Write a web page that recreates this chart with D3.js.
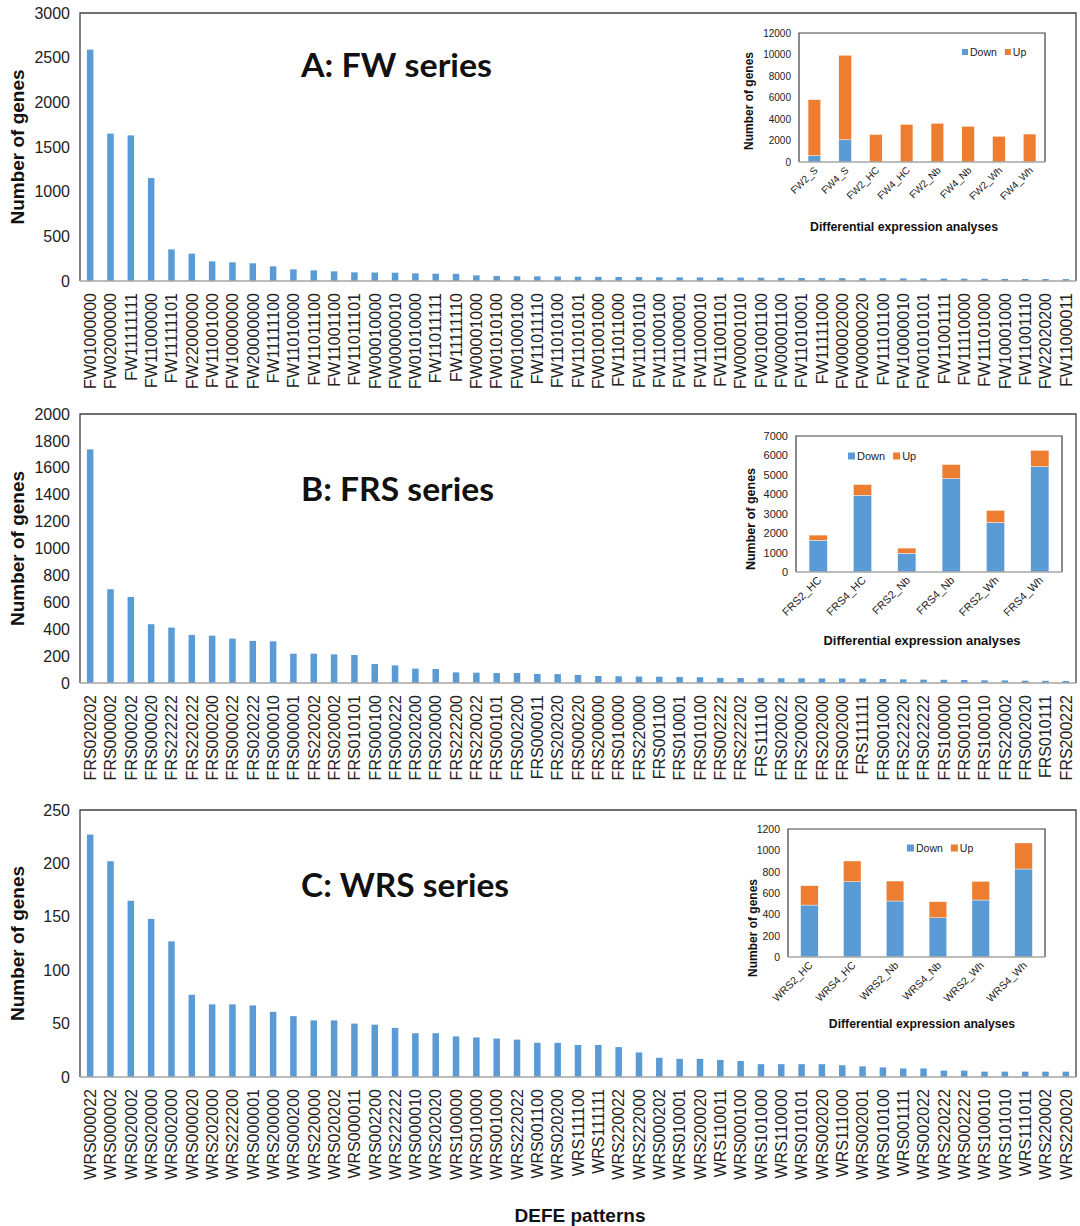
<!DOCTYPE html>
<html><head><meta charset="utf-8">
<script src="https://cdn.jsdelivr.net/npm/d3@7"></script>
<style>
body{margin:0;background:#fff}
svg text{font-family:"Liberation Sans",Arial,sans-serif}
</style>
</head><body>
<svg id="chart" width="1080" height="1226"></svg>
<script>
// ---------- Panel A: FW series ----------
const fwCategories=["FW01000000","FW02000000","FW11111111","FW11000000","FW11111101","FW22000000","FW11001000","FW10000000","FW20000000","FW11111100","FW11010000","FW11011100","FW11001100","FW11011101","FW00010000","FW00000010","FW01010000","FW11011111","FW11111110","FW00001000","FW01010100","FW01000100","FW11011110","FW11010100","FW11010101","FW01001000","FW11011000","FW11001010","FW11000100","FW11000001","FW11000010","FW11001101","FW00001010","FW01001100","FW00001100","FW11010001","FW11111000","FW00002000","FW00000020","FW11101100","FW10000010","FW01010101","FW11001111","FW11110000","FW11101000","FW10001000","FW11001110","FW22020200","FW11000011"];
const fwValues=[2590,1650,1630,1152,354,306,220,209,198,164,130,119,108,97,95,93,86,82,80,63,55,53,52,50,48,46,45,44,42,41,40,39,38,37,35,34,33,32,31,30,29,28,27,26,25,24,23,22,21];
const fwTicks=[0,500,1000,1500,2000,2500,3000];

// ---------- Panel B: FRS series ----------
const frsCategories=["FRS020202","FRS000002","FRS000202","FRS000020","FRS222222","FRS220222","FRS000200","FRS000022","FRS020222","FRS000010","FRS000001","FRS220202","FRS020002","FRS010101","FRS000100","FRS000222","FRS020200","FRS020000","FRS222200","FRS220022","FRS000101","FRS002200","FRS000011","FRS202020","FRS000220","FRS200000","FRS010000","FRS220000","FRS001100","FRS010001","FRS010100","FRS002222","FRS222202","FRS111100","FRS020022","FRS200020","FRS202000","FRS002000","FRS111111","FRS001000","FRS222220","FRS022222","FRS100000","FRS001010","FRS100010","FRS220002","FRS002020","FRS010111","FRS200222"];
const frsValues=[1737,697,640,437,412,357,352,330,313,310,218,218,213,208,141,131,107,104,79,77,74,74,67,66,60,52,50,48,47,45,43,38,37,36,35,35,34,34,33,30,27,25,24,22,20,19,17,16,15];
const frsTicks=[0,200,400,600,800,1000,1200,1400,1600,1800,2000];

// ---------- Panel C: WRS series ----------
const wrsCategories=["WRS000022","WRS000002","WRS020002","WRS020000","WRS002000","WRS000020","WRS202000","WRS222200","WRS000001","WRS200000","WRS000200","WRS220000","WRS020202","WRS000011","WRS002200","WRS222222","WRS000010","WRS202020","WRS100000","WRS010000","WRS001000","WRS222022","WRS001100","WRS020200","WRS111100","WRS111111","WRS220022","WRS222000","WRS000202","WRS010001","WRS200020","WRS110011","WRS000100","WRS101000","WRS110000","WRS010101","WRS002020","WRS111000","WRS002001","WRS010100","WRS001111","WRS002022","WRS220222","WRS002222","WRS100010","WRS101010","WRS111011","WRS220002","WRS220020"];
const wrsValues=[227,202,165,148,127,77,68,68,67,61,57,53,53,50,49,46,41,41,38,37,36,35,32,32,30,30,28,23,18,17,17,16,15,12,12,12,12,11,10,9,8,8,6,6,5,5,5,5,5];
const wrsTicks=[0,50,100,150,200,250];

// ---------- Insets ----------
const fwInsetCategories=["FW2_S","FW4_S","FW2_HC","FW4_HC","FW2_Nb","FW4_Nb","FW2_Wh","FW4_Wh"];
const fwInsetDown=[600,2080,0,0,0,0,0,0];
const fwInsetUp=[5200,7850,2550,3500,3600,3320,2390,2600];
const fwInsetTicks=[0,2000,4000,6000,8000,10000,12000];

const frsInsetCategories=["FRS2_HC","FRS4_HC","FRS2_Nb","FRS4_Nb","FRS2_Wh","FRS4_Wh"];
const frsInsetDown=[1630,3950,960,4810,2550,5430];
const frsInsetUp=[270,550,270,720,620,830];
const frsInsetTicks=[0,1000,2000,3000,4000,5000,6000,7000];

const wrsInsetCategories=["WRS2_HC","WRS4_HC","WRS2_Nb","WRS4_Nb","WRS2_Wh","WRS4_Wh"];
const wrsInsetDown=[487,706,525,368,534,825];
const wrsInsetUp=[181,194,187,150,175,244];
const wrsInsetTicks=[0,200,400,600,800,1000,1200];

const seriesNames=["Down","Up"];
const seriesColors=["#5b9bd5","#ed7d31"];

const svg=d3.select("#chart");
svg.append("rect").attr("width",1080).attr("height",1226).attr("fill","#fff");

const panels=[
 {cats:fwCategories,vals:fwValues,ticks:fwTicks,top:13,bottom:281,title:"A: FW series",titleY:77,titleW:191,
  inset:{cats:fwInsetCategories,down:fwInsetDown,up:fwInsetUp,ticks:fwInsetTicks,left:799,right:1045,top:33,bottom:162,
   tickFont:10,labFont:10,legFont:10.5,ytFont:12,xtFont:12.3,ytX:749,ytY:101,xtX:904,xtY:231,legX:962,legY:52,legSq:6,labDy:9}},
 {cats:frsCategories,vals:frsValues,ticks:frsTicks,top:414,bottom:683,title:"B: FRS series",titleY:501,titleW:193,
  inset:{cats:frsInsetCategories,down:frsInsetDown,up:frsInsetUp,ticks:frsInsetTicks,left:796,right:1062,top:436,bottom:572,
   tickFont:11,labFont:11,legFont:11,ytFont:12.5,xtFont:12.9,ytX:750,ytY:519,xtX:922,xtY:645,legX:848,legY:456,legSq:7,labDy:9}},
 {cats:wrsCategories,vals:wrsValues,ticks:wrsTicks,top:810,bottom:1077,title:"C: WRS series",titleY:897,titleW:208,
  inset:{cats:wrsInsetCategories,down:wrsInsetDown,up:wrsInsetUp,ticks:wrsInsetTicks,left:788,right:1045,top:829,bottom:957,
   tickFont:10.5,labFont:10.5,legFont:10.5,ytFont:12,xtFont:12.2,ytX:753,ytY:928,xtX:922,xtY:1028,legX:907,legY:848,legSq:7,labDy:9}}
];

const L=80,R=1076;
panels.forEach(p=>{
  const g=svg.append("g");
  const y=d3.scaleLinear().domain([0,d3.max(p.ticks)]).range([p.bottom,p.top]);
  const x=d3.scaleBand().domain(p.cats).range([L,R]).paddingInner(0.68).paddingOuter(0.34);
  // bars
  g.selectAll("rect.bar").data(p.vals).join("rect").attr("class","bar")
    .attr("x",(d,i)=>x(p.cats[i])).attr("width",x.bandwidth())
    .attr("y",d=>y(d)).attr("height",d=>p.bottom-y(d)).attr("fill","#5b9bd5");
  // frame
  g.append("path").attr("d",`M${L},${p.bottom}V${p.top}H${R}V${p.bottom}`)
    .attr("fill","none").attr("stroke","#404040").attr("stroke-width",1.3);
  g.append("line").attr("x1",L).attr("x2",R).attr("y1",p.bottom).attr("y2",p.bottom)
    .attr("stroke","#a6a6a6").attr("stroke-width",1.5);
  // y axis
  const ya=g.append("g").attr("transform",`translate(${L},0)`)
    .call(d3.axisLeft(y).tickValues(p.ticks).tickSize(0).tickPadding(10).tickFormat(d3.format("d")));
  ya.select(".domain").remove();
  ya.selectAll("text").attr("font-size",16).attr("fill","#222").style("font-family","Liberation Sans, Arial, sans-serif");
  // x axis
  const xa=g.append("g").attr("transform",`translate(0,${p.bottom})`).call(d3.axisBottom(x).tickSize(0));
  xa.select(".domain").remove();
  xa.selectAll("text").attr("transform","rotate(-90)").attr("x",-12).attr("y",0).attr("dy","0.36em")
    .style("text-anchor","end").attr("font-size",16).attr("fill","#222").style("font-family","Liberation Sans, Arial, sans-serif");
  // y title
  g.append("text").attr("transform",`translate(17,${(p.top+p.bottom)/2}) rotate(-90)`)
    .attr("text-anchor","middle").attr("dy","0.36em").attr("font-size",19).attr("font-weight","bold").attr("fill","#111")
    .text("Number of genes");
  // panel title
  g.append("text").attr("x",301).attr("y",p.titleY).attr("font-size",32).attr("font-weight","bold")
    .style("font-family","Lato, 'Open Sans', sans-serif").attr("fill","#111")
    .attr("textLength",p.titleW).attr("lengthAdjust","spacingAndGlyphs").text(p.title);

  // inset
  const s=p.inset;
  const ig=svg.append("g");
  const iy=d3.scaleLinear().domain([0,d3.max(s.ticks)]).range([s.bottom,s.top]);
  const ix=d3.scaleBand().domain(s.cats).range([s.left,s.right]).paddingInner(0.59).paddingOuter(0.295);
  const rows=s.cats.map((c,i)=>({cat:c,Down:s.down[i],Up:s.up[i]}));
  const stacked=d3.stack().keys(seriesNames)(rows);
  stacked.forEach((layer,li)=>{
    ig.selectAll(null).data(layer).join("rect")
      .attr("x",d=>ix(d.data.cat)).attr("width",ix.bandwidth())
      .attr("y",d=>iy(d[1])).attr("height",d=>iy(d[0])-iy(d[1]))
      .attr("fill",seriesColors[li]).attr("stroke","#fff").attr("stroke-width",0.4);
  });
  ig.append("path").attr("d",`M${s.left},${s.bottom}V${s.top}H${s.right}V${s.bottom}`)
    .attr("fill","none").attr("stroke","#404040").attr("stroke-width",1.2);
  ig.append("line").attr("x1",s.left).attr("x2",s.right).attr("y1",s.bottom).attr("y2",s.bottom)
    .attr("stroke","#a6a6a6").attr("stroke-width",1.3);
  const iya=ig.append("g").attr("transform",`translate(${s.left},0)`)
    .call(d3.axisLeft(iy).tickValues(s.ticks).tickSize(0).tickPadding(8).tickFormat(d3.format("d")));
  iya.select(".domain").remove();
  iya.selectAll("text").attr("font-size",s.tickFont).attr("fill","#222").style("font-family","Liberation Sans, Arial, sans-serif");
  const ixa=ig.append("g").attr("transform",`translate(0,${s.bottom})`).call(d3.axisBottom(ix).tickSize(0));
  ixa.select(".domain").remove();
  ixa.selectAll("text").attr("y",0).attr("dy",0)
    .attr("transform",`translate(4,${s.labDy}) rotate(-45)`).style("text-anchor","end")
    .attr("font-size",s.labFont).attr("fill","#222").style("font-family","Liberation Sans, Arial, sans-serif");
  ig.append("text").attr("transform",`translate(${s.ytX},${s.ytY}) rotate(-90)`).attr("text-anchor","middle")
    .attr("dy","0.36em").attr("font-size",s.ytFont).attr("font-weight","bold").attr("fill","#111").text("Number of genes");
  ig.append("text").attr("x",s.xtX).attr("y",s.xtY).attr("text-anchor","middle")
    .attr("font-size",s.xtFont).attr("font-weight","bold").attr("fill","#111").text("Differential expression analyses");
  // legend
  const lg=ig.append("g").attr("transform",`translate(${s.legX},${s.legY})`);
  let lx=0;
  seriesNames.forEach((n,i)=>{
    lg.append("rect").attr("x",lx).attr("y",-s.legSq/2).attr("width",s.legSq).attr("height",s.legSq).attr("fill",seriesColors[i]);
    const t=lg.append("text").attr("x",lx+s.legSq+2).attr("y",0).attr("dy","0.36em").attr("font-size",s.legFont).attr("fill","#222").text(n);
    lx+=s.legSq+2+t.node().getComputedTextLength()+8;
  });
});

svg.append("text").attr("x",580).attr("y",1222).attr("text-anchor","middle").attr("font-size",19)
  .attr("font-weight","bold").attr("fill","#111").text("DEFE patterns");
</script>
</body></html>
